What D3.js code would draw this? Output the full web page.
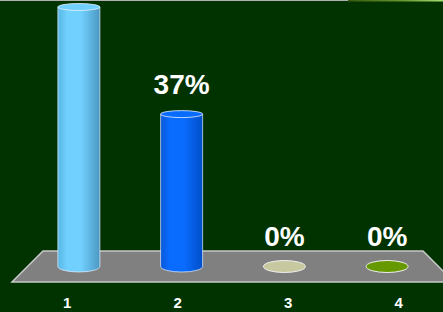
<!DOCTYPE html>
<html>
<head>
<meta charset="utf-8">
<script src="https://cdn.jsdelivr.net/npm/d3@7"></script>
<style>
  html, body { margin: 0; padding: 0; background: #003300; overflow: hidden; }
  svg { display: block; font-family: "Liberation Sans", Arial, sans-serif; }
</style>
</head>
<body>
<svg></svg>
<script>
const categories = ["1", "2", "3", "4"];
const values = [63, 37, 0, 0];
const valueLabels = ["63%", "37%", "0%", "0%"];
const barColors = [
  ["#58b6e4", "#72d0ff", "#4a98c2"],
  ["#0a58d8", "#0a6cff", "#004ec8"],
  ["#c8c8a0", "#c8c8a0", "#c8c8a0"],
  ["#669900", "#669900", "#669900"]
];

const W = 443, H = 312;

const svg = d3.select("svg")
    .attr("width", W)
    .attr("height", H);

svg.append("rect").attr("width", W).attr("height", H).attr("fill", "#003300");

// thin strip at the very top of the slide
const defs = svg.append("defs");
const topGrad = defs.append("linearGradient").attr("id", "topgrad");
topGrad.append("stop").attr("offset", "0%").attr("stop-color", "#3a5a10");
topGrad.append("stop").attr("offset", "60%").attr("stop-color", "#6a9a30");
topGrad.append("stop").attr("offset", "100%").attr("stop-color", "#a8e070");
svg.append("rect").attr("x", 0).attr("y", 0).attr("width", 348).attr("height", 1).attr("fill", "#b0b0b0");
svg.append("rect").attr("x", 348).attr("y", 0).attr("width", 95).attr("height", 1.5).attr("fill", "url(#topgrad)");

// floor geometry (back edge, front edge)
const floorBack = 251, floorFront = 282;
const baseY = (floorBack + floorFront) / 2;

const xBack = d3.scaleBand().domain(categories).range([43, 423]);
const xFront = d3.scaleBand().domain(categories).range([12, 454]);
const xMid = d3.scaleBand().domain(categories).range([27.5, 438.5]);

const y = d3.scaleLinear().domain([0, 63]).range([baseY, 7]);

svg.append("path")
    .attr("d", `M${xBack.range()[0]},${floorBack} L${xBack.range()[1]},${floorBack} L${xFront.range()[1]},${floorFront} L${xFront.range()[0]},${floorFront} Z`)
    .attr("fill", "#808080")
    .attr("stroke", "#c8c8c8")
    .attr("stroke-width", 1.5);

// gradients for cylinders
barColors.forEach(function(c, i) {
  const g = defs.append("linearGradient").attr("id", "cyl" + i);
  g.append("stop").attr("offset", "0%").attr("stop-color", c[0]);
  g.append("stop").attr("offset", "22%").attr("stop-color", c[1]);
  g.append("stop").attr("offset", "55%").attr("stop-color", c[1]);
  g.append("stop").attr("offset", "100%").attr("stop-color", c[2]);
});

const rx = 21, ryBot = 5.5, ryTop = 3.5;
const data = categories.map(function(c, i) { return { cat: c, v: values[i], label: valueLabels[i], i: i }; });

const bars = svg.selectAll(".bar")
    .data(data)
    .enter().append("g")
    .attr("class", "bar");

bars.each(function(d) {
  const g = d3.select(this);
  const cx = xMid(d.cat) + xMid.bandwidth() / 2;
  const top = y(d.v);
  if (d.v > 0) {
    g.append("path")
        .attr("d", `M${cx - rx},${top} L${cx - rx},${baseY} A${rx},${ryBot} 0 0 0 ${cx + rx},${baseY} L${cx + rx},${top} Z`)
        .attr("fill", "url(#cyl" + d.i + ")")
        .attr("stroke", "rgba(230,240,255,0.7)")
        .attr("stroke-width", 1);
    g.append("ellipse")
        .attr("cx", cx).attr("cy", top)
        .attr("rx", rx).attr("ry", ryTop)
        .attr("fill", barColors[d.i][1])
        .attr("stroke", "rgba(230,240,255,0.8)")
        .attr("stroke-width", 1);
  } else {
    g.append("ellipse")
        .attr("cx", cx).attr("cy", baseY)
        .attr("rx", rx).attr("ry", 6)
        .attr("fill", barColors[d.i][1])
        .attr("stroke", "#f0f0f0")
        .attr("stroke-width", 1);
  }
  g.append("text")
      .attr("x", cx)
      .attr("y", top - 20.5)
      .attr("text-anchor", "middle")
      .attr("fill", "#ffffff")
      .attr("font-size", 28)
      .attr("font-weight", "bold")
      .text(d.label);
});

// category labels along the front edge of the floor
const xAxis = svg.append("g")
    .attr("transform", `translate(0, ${floorFront})`)
    .call(d3.axisBottom(xFront).tickSize(0).tickPadding(15));
xAxis.select(".domain").remove();
xAxis.selectAll("text")
    .attr("fill", "#ffffff")
    .attr("font-size", 15)
    .attr("font-weight", "bold")
    .attr("font-family", "'Liberation Sans', Arial, sans-serif");
</script>
</body>
</html>
